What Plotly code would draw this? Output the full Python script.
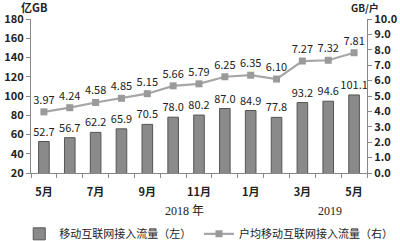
import plotly.graph_objects as go

months = ["5月", "6月", "7月", "8月", "9月", "10月", "11月", "12月", "1月", "2月", "3月", "4月", "5月"]
traffic = [52.7, 56.7, 62.2, 65.9, 70.5, 78.0, 80.2, 87.0, 84.9, 77.8, 93.2, 94.6, 101.1]
per_user = [3.97, 4.24, 4.58, 4.85, 5.15, 5.66, 5.79, 6.25, 6.35, 6.10, 7.27, 7.32, 7.81]
shown_ticks = [0, 2, 4, 6, 8, 10, 12]

xs = list(range(len(months)))
FONT = "Noto Sans CJK SC"
TXT = "#222222"
TICKF = dict(size=11, color=TXT, family=FONT, weight="bold")

fig = go.Figure()
fig.add_trace(go.Bar(
    x=xs, y=traffic, name="移动互联网接入流量（左）",
    width=0.41,
    marker=dict(color="#8a8a8a", line=dict(color="#555555", width=1)),
    text=[f"{v:.1f}" for v in traffic], textposition="outside",
    constraintext="none",
    textfont=dict(size=11, color=TXT, family=FONT),
    cliponaxis=False, yaxis="y", legend="legend",
))
fig.add_trace(go.Scatter(
    x=xs, y=per_user, name="户均移动互联网接入流量（右）",
    mode="lines+markers+text",
    line=dict(color="#a6a6a6", width=2.2),
    marker=dict(symbol="square", size=7, color="#9a9a9a"),
    text=[f"{v:.2f}" for v in per_user], textposition="top center",
    textfont=dict(size=11, color=TXT, family=FONT),
    cliponaxis=False, yaxis="y2", legend="legend2",
))

LEG = dict(orientation="h", xanchor="left", y=-0.395, yanchor="middle",
           font=dict(size=11, color=TXT, family=FONT), itemwidth=30,
           bgcolor="rgba(0,0,0,0)", tracegroupgap=0)

fig.update_layout(
    width=400, height=241,
    margin=dict(l=31, r=33, t=19, b=68, autoexpand=False),
    paper_bgcolor="white", plot_bgcolor="white",
    font=dict(family=FONT, size=11, color=TXT),
    showlegend=True,
    legend=dict(LEG, x=-0.035),
    legend2=dict(LEG, x=0.5),
    xaxis=dict(
        range=[-0.5, 12.5], tickmode="array",
        tickvals=shown_ticks, ticktext=[months[i] for i in shown_ticks],
        ticks="", showline=True, linecolor="#888888", linewidth=1,
        showgrid=False, zeroline=False, ticklabelstandoff=9, automargin=False,
        tickfont=TICKF,
        minor=dict(tick0=-0.5, dtick=1, ticks="outside", ticklen=4, tickcolor="#888888", showgrid=False),
    ),
    yaxis=dict(
        range=[20, 180], dtick=20, showgrid=False, zeroline=False,
        showline=True, linecolor="#888888", linewidth=1, automargin=False,
        ticks="outside", ticklen=4, tickcolor="#888888",
        tickfont=TICKF,
    ),
    yaxis2=dict(
        range=[0, 10], dtick=1, tickformat=".1f", overlaying="y", side="right",
        showgrid=False, zeroline=False, showline=True, linecolor="#888888", linewidth=1,
        ticks="outside", ticklen=4, tickcolor="#888888", automargin=False,
        tickfont=TICKF,
    ),
)

fig.add_annotation(text="<b>亿GB</b>", xref="paper", yref="paper", x=0.01, y=1.08,
                   xanchor="center", yanchor="middle", showarrow=False,
                   font=dict(size=11, color=TXT, family=FONT))
fig.add_annotation(text="<b>GB/户</b>", xref="paper", yref="paper", x=0.995, y=1.077,
                   xanchor="center", yanchor="middle", showarrow=False,
                   font=dict(size=10, color=TXT, family=FONT))
fig.add_annotation(text="2018 年", xref="x", yref="paper", x=5.42, y=-0.245,
                   xanchor="center", yanchor="middle", showarrow=False,
                   font=dict(size=12, color=TXT, family="Liberation Serif, Noto Sans CJK SC"))
fig.add_annotation(text="2019", xref="x", yref="paper", x=11.07, y=-0.245,
                   xanchor="center", yanchor="middle", showarrow=False,
                   font=dict(size=12, color=TXT, family="Liberation Serif, Noto Sans CJK SC"))

fig.write_html("out.html")
